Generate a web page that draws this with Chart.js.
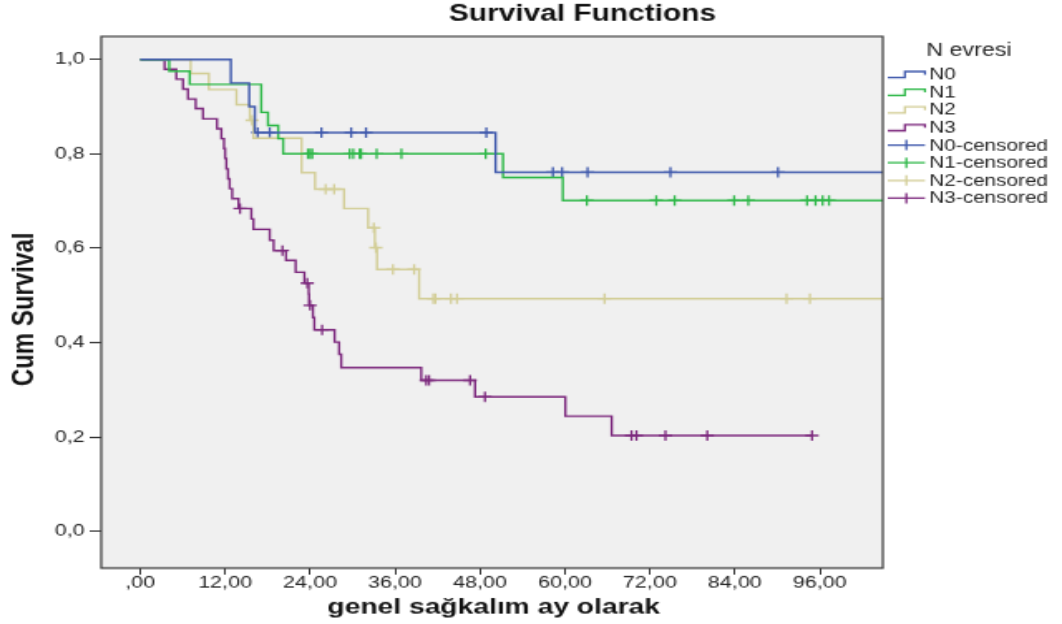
<!DOCTYPE html>
<html>
<head>
<meta charset="utf-8">
<script src="https://cdn.jsdelivr.net/npm/chart.js@4.4.1/dist/chart.umd.min.js"></script>
<style>
  html, body { margin: 0; padding: 0; background: #fff; }
  #page { width: 1062px; height: 624px; overflow: hidden; }
  /* the chart is laid out at 640x480 and stretched to the page size */
  #wrap { width: 640px; height: 480px; transform: scale(1.659375, 1.3); transform-origin: 0 0; }
</style>
</head>
<body>
<div id="page"><div id="wrap"><canvas id="chart" width="640" height="480"></canvas></div></div>
<script>
const FONT = "'Liberation Sans', Arial, sans-serif";

const chartTitle = "Survival Functions";
const xTitle = "genel sağkalım ay olarak";
const yTitle = "Cum Survival";
const legendTitle = "N evresi";

const xTicks = [0, 12, 24, 36, 48, 60, 72, 84, 96];
const xTickLabels = [",00", "12,00", "24,00", "36,00", "48,00", "60,00", "72,00", "84,00", "96,00"];
const yTicks = [0, 0.2, 0.4, 0.6, 0.8, 1.0];
const yTickLabels = ["0,0", "0,2", "0,4", "0,6", "0,8", "1,0"];

// N0: event times (months) and survival after each event
const n0Time = [0, 12.8, 15.4, 16.2, 50.2, 106];
const n0Surv = [1, 0.95, 0.90, 0.845, 0.761, 0.761];
const n0CensTime = [16.6, 18.3, 25.6, 29.8, 31.9, 48.9, 58.3, 59.6, 63.2, 74.9, 90.1];
const n0CensSurv = [0.845, 0.845, 0.845, 0.845, 0.845, 0.845, 0.761, 0.761, 0.761, 0.761, 0.761];

// N1
const n1Time = [0, 4.1, 7.0, 17.1, 18.05, 19.5, 20.2, 51.25, 59.7, 106];
const n1Surv = [1, 0.975, 0.947, 0.888, 0.860, 0.832, 0.800, 0.750, 0.701, 0.701];
const n1CensTime = [23.7, 24.0, 24.3, 29.6, 30.1, 31.0, 31.2, 33.4, 36.9, 48.8,
  63.1, 72.9, 75.5, 83.9, 85.9, 94.2, 95.4, 96.4, 97.3];
const n1CensSurv = [0.8, 0.8, 0.8, 0.8, 0.8, 0.8, 0.8, 0.8, 0.8, 0.8,
  0.701, 0.701, 0.701, 0.701, 0.701, 0.701, 0.701, 0.701, 0.701];

// N2
const n2Time = [0, 7.13, 9.7, 13.6, 15.5, 16.0, 22.8, 24.7, 28.8, 32.2, 33.15, 33.45, 39.4, 106];
const n2Surv = [1, 0.970, 0.936, 0.904, 0.871, 0.833, 0.760, 0.725, 0.684, 0.643, 0.601, 0.555, 0.493, 0.493];
const n2CensTime = [15.8, 26.2, 27.4, 33.0, 33.3, 35.7, 38.7, 41.4, 41.7, 43.9, 44.75, 65.6, 91.3, 94.6];
const n2CensSurv = [0.871, 0.725, 0.725, 0.643, 0.601, 0.555, 0.555, 0.493, 0.493, 0.493, 0.493, 0.493, 0.493, 0.493];

// N3
const n3Time = [0, 3.45, 5.1, 6.05, 6.75, 7.84, 8.87, 10.85, 11.47, 11.84,
  12.0, 12.17, 12.4, 12.64, 13.0, 13.9, 15.7, 16.0, 18.3, 18.85,
  20.6, 21.96, 23.2, 23.8, 23.85, 24.4, 24.6, 27.46, 28.1, 28.4,
  39.7, 47.3, 60.06, 66.6, 94.9];
const n3Surv = [1, 0.979, 0.958, 0.937, 0.916, 0.896, 0.874, 0.853, 0.832, 0.811,
  0.790, 0.768, 0.747, 0.726, 0.705, 0.684, 0.662, 0.640, 0.617, 0.595,
  0.574, 0.549, 0.526, 0.503, 0.479, 0.453, 0.427, 0.401, 0.375, 0.347,
  0.320, 0.285, 0.244, 0.203, 0.203];
const n3CensTime = [14.1, 20.1, 23.6, 24.0, 25.7, 40.4, 40.8, 46.6, 48.7, 69.4, 70.1, 74.2, 80.1, 94.9];
const n3CensSurv = [0.684, 0.595, 0.526, 0.479, 0.427, 0.320, 0.320, 0.320, 0.285, 0.203, 0.203, 0.203, 0.203, 0.203];

const groups = [
  { name: "N0", color: "#3e58ac", time: n0Time, surv: n0Surv, censTime: n0CensTime, censSurv: n0CensSurv },
  { name: "N1", color: "#2eb848", time: n1Time, surv: n1Surv, censTime: n1CensTime, censSurv: n1CensSurv },
  { name: "N2", color: "#d3ce97", time: n2Time, surv: n2Surv, censTime: n2CensTime, censSurv: n2CensSurv },
  { name: "N3", color: "#7c287d", time: n3Time, surv: n3Surv, censTime: n3CensTime, censSurv: n3CensSurv },
];

function toPoints(xs, ys) {
  return xs.map((x, i) => ({ x, y: ys[i] }));
}

const datasets = [];
groups.forEach((g) => {
  datasets.push({
    label: g.name,
    data: toPoints(g.time, g.surv),
    borderColor: g.color,
    borderWidth: 1.4,
    stepped: true,
    pointRadius: 0,
    fill: false,
  });
});
groups.forEach((g) => {
  datasets.push({
    label: g.name + "-censored",
    data: toPoints(g.censTime, g.censSurv),
    showLine: false,
    borderColor: g.color,
    pointStyle: "cross",
    pointRadius: 4,
    pointHoverRadius: 4,
    pointBorderWidth: 1.3,
    pointBorderColor: g.color,
  });
});

// background, frame, titles and the legend
const decor = {
  id: "decor",
  beforeDraw(chart) {
    const { ctx, chartArea: a } = chart;
    ctx.save();
    ctx.fillStyle = "#ffffff";
    ctx.fillRect(0, 0, chart.width, chart.height);
    ctx.fillStyle = "#f0f0f0";
    ctx.fillRect(a.left, a.top, a.right - a.left, a.bottom - a.top);
    ctx.restore();
  },
  afterDraw(chart) {
    const { ctx, chartArea: a } = chart;
    ctx.save();
    ctx.strokeStyle = "#3a3a3a";
    ctx.lineWidth = 1.2;
    ctx.strokeRect(a.left, a.top, a.right - a.left, a.bottom - a.top);

    ctx.fillStyle = "#111";
    ctx.textAlign = "center";
    ctx.textBaseline = "middle";
    ctx.font = `bold 18px ${FONT}`;
    ctx.fillText(chartTitle, 351, 11.5);

    ctx.font = `bold 17px ${FONT}`;
    ctx.fillText(xTitle, (a.left + a.right) / 2 + 1, 467);
    ctx.font = `bold 18.5px ${FONT}`;
    ctx.save();
    ctx.translate(15, 238);
    ctx.rotate(-Math.PI / 2);
    ctx.fillText(yTitle, 0, 0);
    ctx.restore();

    // legend
    ctx.fillStyle = "#222";
    ctx.font = `14px ${FONT}`;
    ctx.fillText(legendTitle, a.right + 52, 39);
    ctx.font = `12.5px ${FONT}`;
    ctx.textAlign = "left";
    const x0 = a.right + 3;
    chart.data.datasets.forEach((ds, i) => {
      const cy = 57.2 + i * 13.6;
      ctx.strokeStyle = ds.borderColor;
      ctx.lineWidth = 1.3;
      ctx.beginPath();
      if (ds.showLine === false) {
        ctx.moveTo(x0, cy);
        ctx.lineTo(x0 + 22.4, cy);
        ctx.moveTo(x0 + 11.2, cy - 4);
        ctx.lineTo(x0 + 11.2, cy + 4);
      } else {
        ctx.moveTo(x0, cy + 2.5);
        ctx.lineTo(x0 + 10.3, cy + 2.5);
        ctx.lineTo(x0 + 10.3, cy - 2.2);
        ctx.lineTo(x0 + 22.4, cy - 2.2);
        ctx.lineTo(x0 + 22.4, cy + 0.3);
      }
      ctx.stroke();
      ctx.fillText(ds.label, a.right + 28, cy + 0.5);
    });
    ctx.restore();
  },
};

new Chart(document.getElementById("chart"), {
  type: "line",
  data: { datasets },
  options: {
    responsive: false,
    animation: false,
    devicePixelRatio: 1,
    layout: { padding: { top: 28, right: 108, left: 0, bottom: 0 } },
    plugins: {
      legend: { display: false },
      title: { display: false },
      tooltip: { enabled: false },
    },
    scales: {
      x: {
        type: "linear",
        min: -5.5,
        max: 104.9,
        afterBuildTicks: (s) => { s.ticks = xTicks.map((v) => ({ value: v })); },
        afterFit: (s) => { s.height = 43; },
        ticks: {
          callback: (v) => xTickLabels[xTicks.indexOf(v)],
          font: { family: FONT, size: 13 },
          color: "#222",
          padding: -1,
          maxRotation: 0,
          autoSkip: false,
        },
        grid: { drawOnChartArea: false, drawTicks: true, tickLength: 5, color: "#333", lineWidth: 1 },
        border: { display: false },
      },
      y: {
        type: "linear",
        min: -0.078,
        max: 1.0487,
        afterBuildTicks: (s) => { s.ticks = yTicks.map((v) => ({ value: v })); },
        afterFit: (s) => { s.width = 61; },
        ticks: {
          callback: (v) => yTickLabels[yTicks.indexOf(v)],
          font: { family: FONT, size: 13 },
          color: "#222",
          padding: 3,
        },
        grid: { drawOnChartArea: false, drawTicks: true, tickLength: 7, color: "#333", lineWidth: 1 },
        border: { display: false },
      },
    },
  },
  plugins: [decor],
});
</script>
</body>
</html>
